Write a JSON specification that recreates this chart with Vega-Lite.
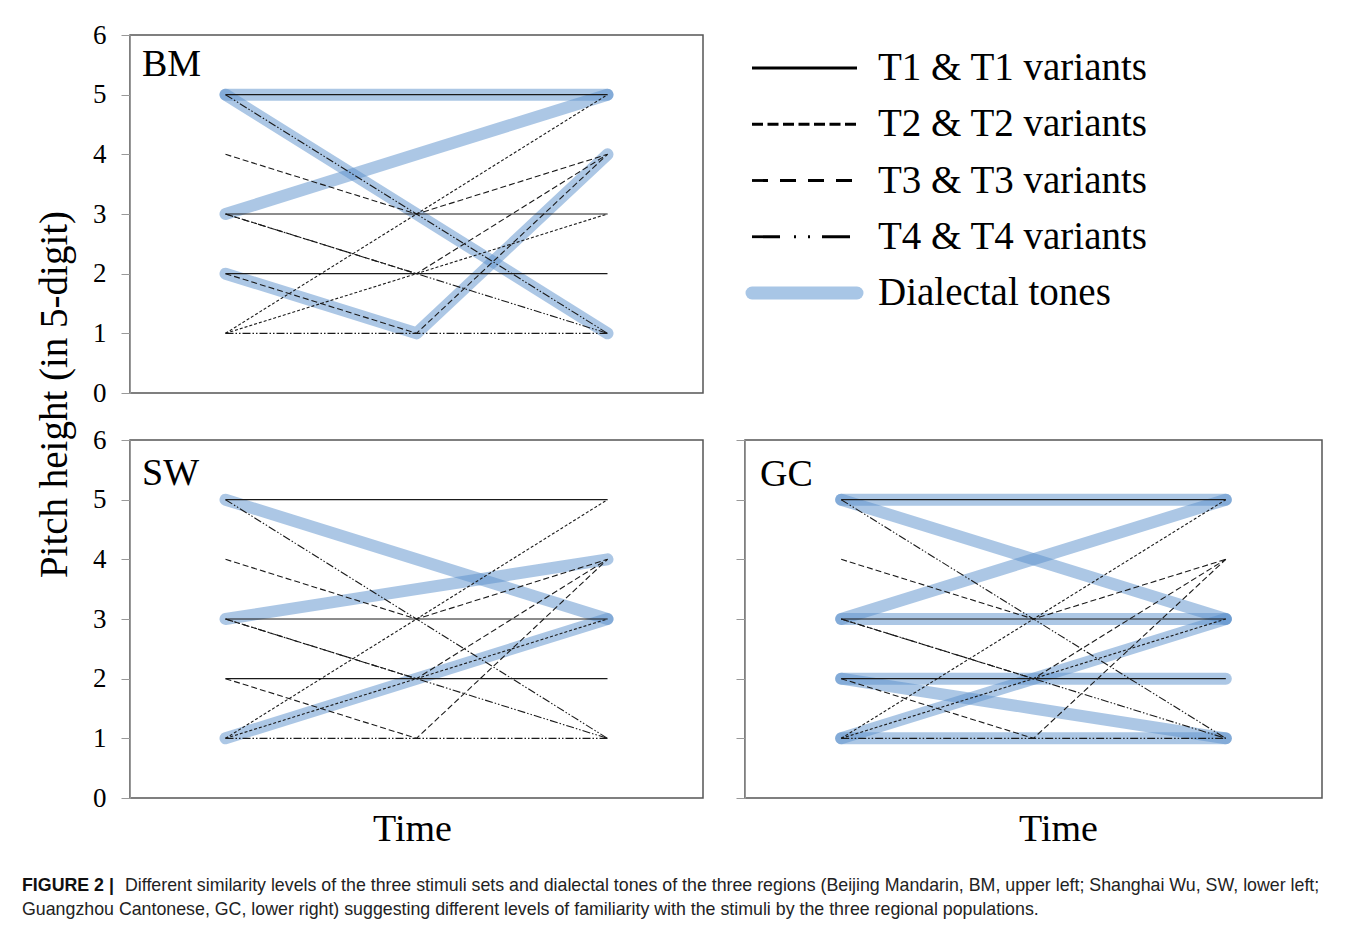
{
  "$schema": "https://vega.github.io/schema/vega-lite/v6.json",
  "background": "white",
  "padding": {"left": 22, "top": 20, "right": 5, "bottom": 5},
  "bounds": "flush",
  "columns": 2,
  "spacing": {"row": 47, "column": 42},
  "datasets": {
    "stimuli": [
      {"id": "a", "type": "T1", "t": 1, "p": 5}, {"id": "a", "type": "T1", "t": 2, "p": 5}, {"id": "a", "type": "T1", "t": 3, "p": 5},
      {"id": "b", "type": "T1", "t": 1, "p": 3}, {"id": "b", "type": "T1", "t": 2, "p": 3}, {"id": "b", "type": "T1", "t": 3, "p": 3},
      {"id": "c", "type": "T1", "t": 1, "p": 2}, {"id": "c", "type": "T1", "t": 2, "p": 2}, {"id": "c", "type": "T1", "t": 3, "p": 2},
      {"id": "d", "type": "T2", "t": 1, "p": 1}, {"id": "d", "type": "T2", "t": 2, "p": 3}, {"id": "d", "type": "T2", "t": 3, "p": 5},
      {"id": "e", "type": "T2", "t": 1, "p": 1}, {"id": "e", "type": "T2", "t": 2, "p": 2}, {"id": "e", "type": "T2", "t": 3, "p": 3},
      {"id": "f", "type": "T3", "t": 1, "p": 2}, {"id": "f", "type": "T3", "t": 2, "p": 1}, {"id": "f", "type": "T3", "t": 3, "p": 4},
      {"id": "g", "type": "T3", "t": 1, "p": 3}, {"id": "g", "type": "T3", "t": 2, "p": 2}, {"id": "g", "type": "T3", "t": 3, "p": 4},
      {"id": "h", "type": "T3", "t": 1, "p": 4}, {"id": "h", "type": "T3", "t": 2, "p": 3}, {"id": "h", "type": "T3", "t": 3, "p": 4},
      {"id": "i", "type": "T4", "t": 1, "p": 5}, {"id": "i", "type": "T4", "t": 2, "p": 3}, {"id": "i", "type": "T4", "t": 3, "p": 1},
      {"id": "j", "type": "T4", "t": 1, "p": 3}, {"id": "j", "type": "T4", "t": 2, "p": 2}, {"id": "j", "type": "T4", "t": 3, "p": 1},
      {"id": "k", "type": "T4", "t": 1, "p": 1}, {"id": "k", "type": "T4", "t": 2, "p": 1}, {"id": "k", "type": "T4", "t": 3, "p": 1}
    ],
    "dialect": [
      {"panel": "BM", "id": "b1", "t": 1, "p": 5}, {"panel": "BM", "id": "b1", "t": 2, "p": 5}, {"panel": "BM", "id": "b1", "t": 3, "p": 5},
      {"panel": "BM", "id": "b2", "t": 1, "p": 3}, {"panel": "BM", "id": "b2", "t": 2, "p": 4}, {"panel": "BM", "id": "b2", "t": 3, "p": 5},
      {"panel": "BM", "id": "b3", "t": 1, "p": 2}, {"panel": "BM", "id": "b3", "t": 2, "p": 1}, {"panel": "BM", "id": "b3", "t": 3, "p": 4},
      {"panel": "BM", "id": "b4", "t": 1, "p": 5}, {"panel": "BM", "id": "b4", "t": 2, "p": 3}, {"panel": "BM", "id": "b4", "t": 3, "p": 1},
      {"panel": "SW", "id": "s1", "t": 1, "p": 5}, {"panel": "SW", "id": "s1", "t": 2, "p": 4}, {"panel": "SW", "id": "s1", "t": 3, "p": 3},
      {"panel": "SW", "id": "s2", "t": 1, "p": 3}, {"panel": "SW", "id": "s2", "t": 2, "p": 3.5}, {"panel": "SW", "id": "s2", "t": 3, "p": 4},
      {"panel": "SW", "id": "s3", "t": 1, "p": 1}, {"panel": "SW", "id": "s3", "t": 2, "p": 2}, {"panel": "SW", "id": "s3", "t": 3, "p": 3},
      {"panel": "GC", "id": "g1", "t": 1, "p": 5}, {"panel": "GC", "id": "g1", "t": 2, "p": 5}, {"panel": "GC", "id": "g1", "t": 3, "p": 5},
      {"panel": "GC", "id": "g2", "t": 1, "p": 5}, {"panel": "GC", "id": "g2", "t": 2, "p": 4}, {"panel": "GC", "id": "g2", "t": 3, "p": 3},
      {"panel": "GC", "id": "g3", "t": 1, "p": 3}, {"panel": "GC", "id": "g3", "t": 2, "p": 4}, {"panel": "GC", "id": "g3", "t": 3, "p": 5},
      {"panel": "GC", "id": "g4", "t": 1, "p": 3}, {"panel": "GC", "id": "g4", "t": 2, "p": 3}, {"panel": "GC", "id": "g4", "t": 3, "p": 3},
      {"panel": "GC", "id": "g5", "t": 1, "p": 2}, {"panel": "GC", "id": "g5", "t": 2, "p": 1.5}, {"panel": "GC", "id": "g5", "t": 3, "p": 1},
      {"panel": "GC", "id": "g6", "t": 1, "p": 2}, {"panel": "GC", "id": "g6", "t": 2, "p": 2}, {"panel": "GC", "id": "g6", "t": 3, "p": 2},
      {"panel": "GC", "id": "g7", "t": 1, "p": 1}, {"panel": "GC", "id": "g7", "t": 2, "p": 2}, {"panel": "GC", "id": "g7", "t": 3, "p": 3},
      {"panel": "GC", "id": "g8", "t": 1, "p": 1}, {"panel": "GC", "id": "g8", "t": 2, "p": 1}, {"panel": "GC", "id": "g8", "t": 3, "p": 1}
    ],
    "legendItems": [
      {"label": "T1 & T1 variants", "x": 0}, {"label": "T1 & T1 variants", "x": 1},
      {"label": "T2 & T2 variants", "x": 0}, {"label": "T2 & T2 variants", "x": 1},
      {"label": "T3 & T3 variants", "x": 0}, {"label": "T3 & T3 variants", "x": 1},
      {"label": "T4 & T4 variants", "x": 0}, {"label": "T4 & T4 variants", "x": 1},
      {"label": "Dialectal tones", "x": 0}, {"label": "Dialectal tones", "x": 1}
    ],
    "caption": [
      {"line": 1, "part": "bold", "text": "FIGURE 2 |"},
      {"line": 1, "part": "body", "text": "Different similarity levels of the three stimuli sets and dialectal tones of the three regions (Beijing Mandarin, BM, upper left; Shanghai Wu, SW, lower left;"},
      {"line": 2, "part": "body", "text": "Guangzhou Cantonese, GC, lower right) suggesting different levels of familiarity with the stimuli by the three regional populations."}
    ]
  },
  "config": {
    "view": {"stroke": "#555", "strokeWidth": 1.5},
    "font": "Liberation Serif",
    "axis": {
      "grid": false,
      "labelFont": "Liberation Serif", "labelFontSize": 27, "labelColor": "#000",
      "tickColor": "#999", "domainColor": "#999", "tickSize": 9, "labelPadding": 15,
      "titleFont": "Liberation Serif", "titleFontWeight": "normal", "titleColor": "#000"
    },
    "title": {"font": "Liberation Serif", "fontSize": 38, "fontWeight": "normal", "color": "#000", "anchor": "start", "orient": "top", "frame": "group", "offset": 0, "baseline": "alphabetic"}
  },
  "resolve": {"scale": {"strokeDash": "independent"}},
  "concat": [
    {
      "width": 573, "height": 358,
      "title": {"text": "BM", "dx": 12, "dy": 67},
      "layer": [
        {
          "data": {"name": "dialect"},
          "transform": [{"filter": "datum.panel === 'BM'"}],
          "mark": {"type": "line", "color": "#5a90cc", "strokeWidth": 12, "opacity": 0.5, "strokeCap": "round", "strokeJoin": "round"},
          "encoding": {
            "x": {"field": "t", "type": "quantitative", "scale": {"domain": [0.5, 3.5], "nice": false, "zero": false}, "axis": null},
            "y": {"field": "p", "type": "quantitative", "scale": {"domain": [0, 6], "nice": false}, "axis": {"values": [0, 1, 2, 3, 4, 5, 6], "format": "d", "title": "Pitch height (in 5-digit)", "titleFontSize": 39, "titleY": 359, "titlePadding": 18}},
            "detail": {"field": "id"}
          }
        },
        {
          "data": {"name": "stimuli"},
          "mark": {"type": "line", "color": "#1a1a1a", "strokeWidth": 1.1},
          "encoding": {
            "x": {"field": "t", "type": "quantitative"},
            "y": {"field": "p", "type": "quantitative"},
            "detail": {"field": "id"},
            "strokeDash": {"field": "type", "type": "nominal", "scale": {"domain": ["T1", "T2", "T3", "T4"], "range": [[1, 0], [3, 2], [6, 3], [8, 2, 1.5, 2, 1.5, 2]]}, "legend": null}
          }
        }
      ]
    },
    {
      "width": 410, "height": 291,
      "view": {"stroke": null},
      "data": {"name": "legendItems"},
      "encoding": {
        "y": {"field": "label", "type": "nominal", "scale": {"type": "point", "domain": ["T1 & T1 variants", "T2 & T2 variants", "T3 & T3 variants", "T4 & T4 variants", "Dialectal tones"], "padding": 0.587}, "axis": null},
        "x": {"field": "x", "type": "quantitative", "scale": {"domain": [-0.0667, 3.838], "nice": false, "zero": false}, "axis": null}
      },
      "layer": [
        {
          "transform": [{"filter": "datum.label === 'Dialectal tones'"}],
          "mark": {"type": "line", "color": "#a8c6e6", "strokeWidth": 13, "strokeCap": "round"},
          "encoding": {"detail": {"field": "label"}}
        },
        {
          "transform": [{"filter": "datum.label !== 'Dialectal tones'"}],
          "mark": {"type": "line", "color": "#000", "strokeWidth": 2.8, "strokeCap": "butt"},
          "encoding": {
            "detail": {"field": "label"},
            "strokeDash": {"field": "label", "type": "nominal", "scale": {"domain": ["T1 & T1 variants", "T2 & T2 variants", "T3 & T3 variants", "T4 & T4 variants"], "range": [[1, 0], [11, 4.5], [16, 12], [28, 14, 2, 12, 2, 12]]}, "legend": null}
          }
        },
        {
          "transform": [{"filter": "datum.x === 1"}],
          "mark": {"type": "text", "align": "left", "baseline": "middle", "dx": 21, "font": "Liberation Serif", "fontSize": 39, "color": "#000"},
          "encoding": {"text": {"field": "label"}}
        }
      ]
    },
    {
      "width": 573, "height": 358,
      "title": {"text": "SW", "dx": 12, "dy": 71},
      "layer": [
        {
          "data": {"name": "dialect"},
          "transform": [{"filter": "datum.panel === 'SW'"}],
          "mark": {"type": "line", "color": "#5a90cc", "strokeWidth": 12, "opacity": 0.5, "strokeCap": "round", "strokeJoin": "round"},
          "encoding": {
            "x": {"field": "t", "type": "quantitative", "scale": {"domain": [0.5, 3.5], "nice": false, "zero": false}, "axis": {"title": "Time", "labels": false, "ticks": false, "domain": false, "titleFontSize": 38, "titlePadding": 12, "titleX": 282}},
            "y": {"field": "p", "type": "quantitative", "scale": {"domain": [0, 6], "nice": false}, "axis": {"values": [0, 1, 2, 3, 4, 5, 6], "format": "d", "title": null}},
            "detail": {"field": "id"}
          }
        },
        {
          "data": {"name": "stimuli"},
          "mark": {"type": "line", "color": "#1a1a1a", "strokeWidth": 1.1},
          "encoding": {
            "x": {"field": "t", "type": "quantitative"},
            "y": {"field": "p", "type": "quantitative"},
            "detail": {"field": "id"},
            "strokeDash": {"field": "type", "type": "nominal", "scale": {"domain": ["T1", "T2", "T3", "T4"], "range": [[1, 0], [3, 2], [6, 3], [8, 2, 1.5, 2, 1.5, 2]]}, "legend": null}
          }
        }
      ]
    },
    {
      "width": 577, "height": 358,
      "title": {"text": "GC", "dx": 15, "dy": 58},
      "layer": [
        {
          "data": {"name": "dialect"},
          "transform": [{"filter": "datum.panel === 'GC'"}],
          "mark": {"type": "line", "color": "#5a90cc", "strokeWidth": 12, "opacity": 0.5, "strokeCap": "round", "strokeJoin": "round"},
          "encoding": {
            "x": {"field": "t", "type": "quantitative", "scale": {"domain": [0.5, 3.5], "nice": false, "zero": false}, "axis": {"title": "Time", "labels": false, "ticks": false, "domain": false, "titleFontSize": 38, "titlePadding": 12, "titleX": 313}},
            "y": {"field": "p", "type": "quantitative", "scale": {"domain": [0, 6], "nice": false}, "axis": {"values": [0, 1, 2, 3, 4, 5, 6], "title": null, "labels": false}},
            "detail": {"field": "id"}
          }
        },
        {
          "data": {"name": "stimuli"},
          "mark": {"type": "line", "color": "#1a1a1a", "strokeWidth": 1.1},
          "encoding": {
            "x": {"field": "t", "type": "quantitative"},
            "y": {"field": "p", "type": "quantitative"},
            "detail": {"field": "id"},
            "strokeDash": {"field": "type", "type": "nominal", "scale": {"domain": ["T1", "T2", "T3", "T4"], "range": [[1, 0], [3, 2], [6, 3], [8, 2, 1.5, 2, 1.5, 2]]}, "legend": null}
          }
        }
      ]
    },
    {
      "width": 573, "height": 70,
      "view": {"stroke": null},
      "data": {"name": "caption"},
      "encoding": {
        "x": {"datum": 0, "type": "quantitative", "scale": {"domain": [0, 1], "nice": false, "zero": false}, "axis": null},
        "y": {"field": "line", "type": "ordinal", "scale": {"type": "point", "domain": [1, 2], "range": [41, 65], "padding": 0}, "axis": null},
        "text": {"field": "text"}
      },
      "layer": [
        {
          "transform": [{"filter": "datum.part === 'bold'"}],
          "mark": {"type": "text", "align": "left", "baseline": "middle", "dx": -108, "font": "Liberation Sans", "fontSize": 17.8, "fontWeight": "bold", "color": "#111"}
        },
        {
          "transform": [{"filter": "datum.part === 'body' && datum.line === 1"}],
          "mark": {"type": "text", "align": "left", "baseline": "middle", "dx": -5, "font": "Liberation Sans", "fontSize": 17.8, "color": "#222"}
        },
        {
          "transform": [{"filter": "datum.line === 2"}],
          "mark": {"type": "text", "align": "left", "baseline": "middle", "dx": -108, "font": "Liberation Sans", "fontSize": 17.8, "color": "#222"}
        }
      ]
    }
  ]
}
